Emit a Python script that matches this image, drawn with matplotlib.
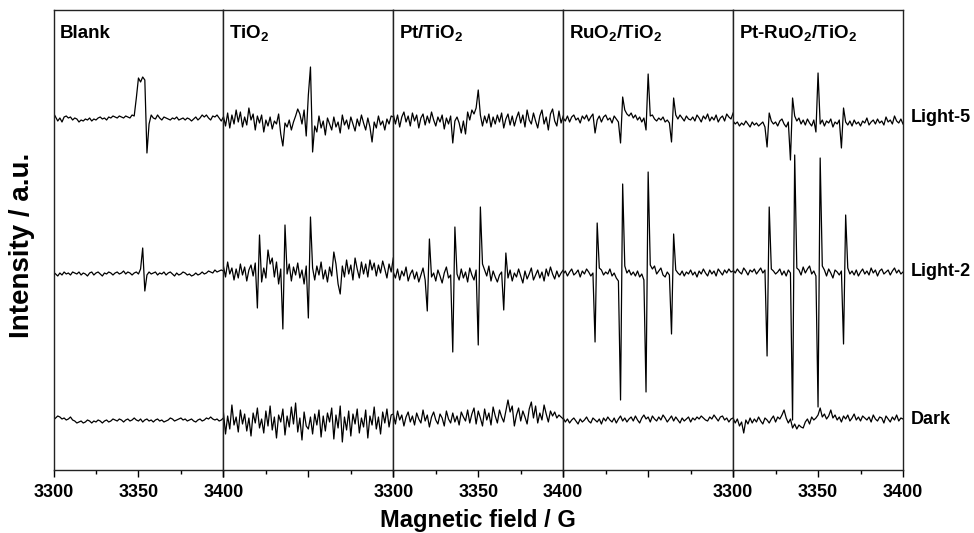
import numpy as np
import matplotlib.pyplot as plt
from matplotlib.ticker import MultipleLocator

# === FONTS ===
plt.rcParams['font.family'] = 'Liberation Sans'
plt.rcParams['font.weight'] = 'bold'
plt.rcParams['mathtext.fontset'] = 'custom'
plt.rcParams['mathtext.rm'] = 'Liberation Sans:bold'
plt.rcParams['mathtext.bf'] = 'Liberation Sans:bold'
plt.rcParams['mathtext.default'] = 'bf'

# === DATA (signal in a.u., 1.25 G steps) ===
SAMPLES = ["Blank", "TiO$_2$", "Pt/TiO$_2$", "RuO$_2$/TiO$_2$", "Pt-RuO$_2$/TiO$_2$"]
CONDITIONS = ["Light-5", "Light-2", "Dark"]
FIELD_MIN, FIELD_MAX = 3300, 3400
FIELD_TICKS = [3300, 3350, 3400]

light5_blank = [5, 1, -3, 0, -4, 1, 2, 0, 1, -2,
                0, -1, -4, -2, -3, -1, -2, 0, -3, -1,
                -2, 0, 1, -1, 0, -2, 1, 0, 2, 1,
                0, 2, 1, 0, 2, 1, 0, 3, 2, 20,
                40, 36, 41, 38, -35, -6, 3, 0, -1, 3,
                0, -2, 1, 0, -1, -2, 0, -1, 1, -2,
                -1, 0, -2, 0, -1, -3, -1, 1, -2, 0,
                3, 1, 3, 0, -2, 2, 1, 3, 0, -3,
                1]
light5_tio2 = [2, -8, 5, -10, 3, -6, 8, -4, 6, -9,
               1, -7, 10, -2, 4, -12, 2, -5, 3, -14,
               -2, -8, 1, -11, -3, -6, 4, -16, -28, -5,
               -9, -2, -12, -4, 2, 9, 4, -6, 8, -18,
               23, 51, -34, -8, -14, 2, -10, -3, -17, 0,
               -6, -12, 1, -9, -4, -15, 3, -7, -2, -11,
               1, -6, -13, -1, -8, 3, -5, -12, 0, -9,
               -24, -4, -10, 2, -7, -3, -12, -1, -6, 2,
               1]
light5_pt = [4, -6, 3, -9, 1, 6, -4, 2, -8, 5,
             -3, 3, -10, 0, 4, -7, 2, -5, 6, -2,
             -8, 1, -4, 3, -11, 0, -6, 2, -25, -3,
             1, -5, -15, -3, -16, 6, -2, 8, 4, 10,
             28, 3, -8, 2, -5, 4, -9, 1, -6, 3,
             -4, 5, -10, -1, 4, -7, 2, -8, 0, 6,
             -5, 3, -9, 8, -2, -6, 5, -3, -10, 2,
             8, -6, 1, -12, 4, 9, -3, -8, 7, -5,
             2]
light5_ruo2 = [0, -3, 2, -4, 1, 3, -2, 0, -5, 2,
               -1, 3, -3, 1, 4, -15, -2, 2, -4, 1,
               3, -2, 0, -5, 2, -1, -4, -25, 21, 8,
               4, 2, 5, 0, 3, -2, 1, -4, 0, -12,
               44, 2, 3, -1, -3, 0, -2, 1, -4, -2,
               -5, -24, 20, 3, -1, 3, 0, -3, 2, -1,
               -2, 1, -3, 3, 0, -4, 2, -1, 4, -3,
               1, -2, 3, -4, 0, 2, -3, 4, 1, -1,
               5]
light5_ptruo2 = [-3, -6, -4, -8, -5, -7, -3, -6, -9, -4,
                 -7, -5, -8, -6, -4, -9, -29, 5, -3, -6,
                 -4, -8, -3, -1, -6, -9, -4, -42, 20, 2,
                 -3, 0, -6, -2, -7, -1, -5, -8, -2, -14,
                 45, -6, -2, -8, -3, -5, -1, -9, -4, -6,
                 -2, -30, 10, -4, -7, -3, -8, -2, -6, -4,
                 -8, -3, -5, 0, -7, -4, -2, -6, -1, -5,
                 -3, -7, 1, -4, -2, -6, 2, -3, -5, -1,
                 -6]

light2_blank = [0, -2, -4, -1, -3, 0, -2, -1, -3, 0,
                -1, -2, 0, -3, -1, -2, -4, -1, 0, -3,
                -1, 0, -2, -4, -1, -2, 0, -1, -3, -1,
                0, -2, -1, 1, -2, 0, -1, -3, -1, 0,
                -2, 3, 24, -19, -3, 0, -2, -1, 0, -3,
                -1, -2, 0, -3, -1, 0, -2, -4, -1, -3,
                -2, 0, -1, -3, -2, -4, -3, -1, -3, -2,
                0, -2, -1, 1, 0, -1, 2, 0, 1, 2,
                1]
light2_tio2 = [6, -5, 10, -2, 4, -8, 3, -6, 8, -3,
               5, -9, 2, 7, -4, 9, -36, 37, -10, 4,
               -6, 22, 8, 14, -5, 10, -12, 3, -57, 47,
               -2, 8, -9, 5, -3, 9, -6, 2, -12, 6,
               -46, 55, 4, -8, 6, -3, 10, -7, 2, -10,
               5, -4, 20, 8, -12, -22, 6, -5, 12, -2,
               7, -8, 14, 3, -6, 10, -2, 8, -5, 12,
               2, 9, -4, 7, -1, 11, 3, -6, 8, 0,
               14]
light2_pt = [0, -6, 3, -8, 1, -4, 5, -9, -2, 2,
             -7, 0, -10, -3, 4, -8, -39, 33, -5, -1,
             -9, 2, -4, -11, -1, 5, -6, -3, -80, 45,
             -2, -8, 3, -6, 0, -10, 4, -3, -8, 2,
             -73, 65, 8, 2, -4, 6, -9, 1, -5, -10,
             -3, 0, -38, 19, -6, 2, -9, -1, -5, 3,
             -4, -11, 1, -7, -2, 4, -8, -3, 2, -6,
             0, -9, 3, -4, 5, -2, -7, 1, -5, -1,
             2]
light2_ruo2 = [-2, 1, -4, 0, 3, -3, -1, 2, -5, 1,
               -2, 3, 0, -4, -1, -70, 49, 4, 2, -3,
               0, -2, 3, -4, -1, -6, -9, -128, 88, 6,
               -1, 2, -3, 0, -4, 1, -5, -2, -8, -120,
               100, 7, 3, 6, -2, 1, 4, -3, -5, 0,
               -3, -62, 38, 2, -1, -3, 1, -4, 0, -2,
               2, -3, 0, -5, 1, -2, 3, -1, -4, 2,
               -2, 1, -4, 3, 0, -3, 2, -1, 3, 0,
               1]
light2_ptruo2 = [2, -1, 3, 0, -2, 4, 1, -3, 2, 0,
                 3, -2, 1, 4, -1, 2, -84, 65, 3, 1,
                 -2, 0, 3, -3, 1, -4, 2, -1, -148, 117,
                 4, 2, -3, 5, -1, 3, 6, -2, 1, -4,
                 -135, 114, 6, 2, -4, 3, -1, -6, 2, 0,
                 -3, 1, -72, 57, 4, -2, 1, -3, 2, -4,
                 0, 3, -2, 1, -3, 4, -1, 2, -4, 1,
                 3, -2, 0, 2, -3, 1, 4, -1, 2, -2,
                 0]

dark_blank = [0, 2, 4, 3, 1, 2, 0, 1, 3, 0,
              -1, -3, -2, -1, -3, -2, 0, -1, -3, -1,
              -2, 0, -1, -3, -1, 0, -2, -1, 1, 0,
              -1, 1, 0, -2, 0, 1, -1, 0, 2, 0,
              -1, 1, -2, 0, 1, -1, 0, -2, 0, 1,
              -1, 0, -2, -1, 0, 2, 1, -1, 0, 1,
              2, 0, 1, -1, 0, 1, -1, -2, 0, 1,
              -1, 0, 2, 1, 3, 1, 0, 1, -1, 0,
              2]
dark_tio2 = [8, -14, 4, -9, 15, -5, 3, -12, 10, -4,
             6, -11, 2, -16, 7, -3, 12, -8, 1, -13,
             9, -6, 14, -10, 3, -18, 5, -2, 11, -15,
             4, -7, 13, -4, 17, -12, 2, -20, 8, -6,
             -9, 3, -14, 6, -5, 10, -17, 4, -11, 7,
             -2, 12, -19, 5, -8, 14, -22, 3, -10, 9,
             -16, 6, -4, 11, -13, 2, -7, 10, -18, 4,
             -5, 13, -9, 3, -14, 8, -3, 11, -7, 5,
             6]
dark_pt = [6, -4, 9, 0, 5, -6, 3, 8, -2, 4,
           -5, 7, 1, -3, 10, -1, 5, -7, 3, 8,
           0, -4, 6, 2, -6, 9, 1, -3, 7, -2,
           4, -5, 8, 3, -1, 10, -3, 6, 12, -4,
           9, 2, -6, 11, 0, 7, -5, 13, 4, -3,
           10, 3, -2, 9, 20, 8, 14, -6, 5, 12,
           -1, 9, 3, -4, 11, 18, 2, 14, -3, 7,
           0, 15, 6, -2, 9, 4, 8, 2, 5, 3,
           1]
dark_ruo2 = [2, -2, 1, -3, 0, 2, -1, -4, 1, -2,
             0, 3, -1, -3, 2, 0, -2, 1, -4, 2,
             -1, 3, 0, -2, 2, -3, 1, 4, -1, 2,
             -2, 1, 3, -1, 4, 0, -3, 2, 5, 1,
             3, -2, 4, 1, -1, 3, 0, 5, 2, -2,
             1, 4, -1, 3, 0, -3, 2, -1, 1, 3,
             -2, 2, 0, 3, 1, 4, 2, 0, -1, 3,
             1, 5, 2, -1, 3, 4, 0, 2, -2, 1,
             2]
dark_ptruo2 = [2, -3, 1, -6, -2, -13, 0, -4, 2, -3,
               1, -2, 3, -1, -4, 2, 0, -3, 1, 4,
               -2, 3, 1, 5, 10, 2, -3, 1, -8, -4,
               -9, -5, -7, -8, -2, 1, -4, 3, 0, 2,
               5, 12, 3, 6, 1, 4, 10, 2, 5, 0,
               3, -2, 4, 1, 5, -1, 2, 6, 0, 3,
               -1, 4, 2, 0, 3, -2, 5, 1, -1, 3,
               2, -3, 4, 1, -2, 3, 0, 5, -1, 2,
               1]

SPECTRA = {
    "Light-5": [light5_blank, light5_tio2, light5_pt, light5_ruo2, light5_ptruo2],
    "Light-2": [light2_blank, light2_tio2, light2_pt, light2_ruo2, light2_ptruo2],
    "Dark": [dark_blank, dark_tio2, dark_pt, dark_ruo2, dark_ptruo2],
}

# === LAYOUT ===
W, H = 974, 533
AX_LEFT, AX_RIGHT, AX_TOP, AX_BOTTOM = 53.5, 903, 10, 470
ROW_OFFSET = {"Light-5": 352, "Light-2": 198, "Dark": 50}
Y_RANGE = (0, 460)
LABELLED = [0, 2, 4]

fig = plt.figure(figsize=(W / 100, H / 100), dpi=100)
panel_w = (AX_RIGHT - AX_LEFT) / len(SAMPLES)

axes = []
for i, sample in enumerate(SAMPLES):
    ax = fig.add_axes([(AX_LEFT + i * panel_w) / W, 1 - AX_BOTTOM / H,
                       panel_w / W, (AX_BOTTOM - AX_TOP) / H])
    for cond in CONDITIONS:
        y = np.asarray(SPECTRA[cond][i], dtype=float)
        x = np.linspace(FIELD_MIN, FIELD_MAX, len(y))
        ax.plot(x, y + ROW_OFFSET[cond], color="black", lw=0.9)
    ax.set_xlim(FIELD_MIN, FIELD_MAX)
    ax.set_ylim(*Y_RANGE)
    ax.set_xticks(FIELD_TICKS)
    ax.xaxis.set_minor_locator(MultipleLocator(25))
    ax.set_yticks([])
    ax.tick_params(axis="x", which="major", direction="out", length=5, width=1,
                   labelsize=13, pad=5, labelbottom=(i in LABELLED))
    ax.tick_params(axis="x", which="minor", direction="out", length=3, width=1)
    for lab in ax.get_xticklabels():
        lab.set_fontweight("bold")
    for sp in ax.spines.values():
        sp.set_linewidth(1.0)
        sp.set_color("#222222")
    ax.text(6 / panel_w, 0.939, sample, transform=ax.transAxes,
            fontsize=13.5, fontweight="bold", va="baseline", ha="left")
    axes.append(ax)

# row labels on the right of the last panel
for cond in CONDITIONS:
    axes[-1].text(1 + 8 / panel_w, ROW_OFFSET[cond], cond,
                  transform=axes[-1].get_yaxis_transform(),
                  fontsize=13, fontweight="bold", va="center", ha="left")

fig.text((AX_LEFT + AX_RIGHT) / 2 / W, 1 - 521 / H, "Magnetic field / G",
         fontsize=17, fontweight="bold", ha="center", va="center")
fig.text(22 / W, 1 - 245 / H, "Intensity / a.u.", rotation=90,
         fontsize=20, fontweight="bold", ha="center", va="center")

fig.savefig("out.png", dpi=100)
